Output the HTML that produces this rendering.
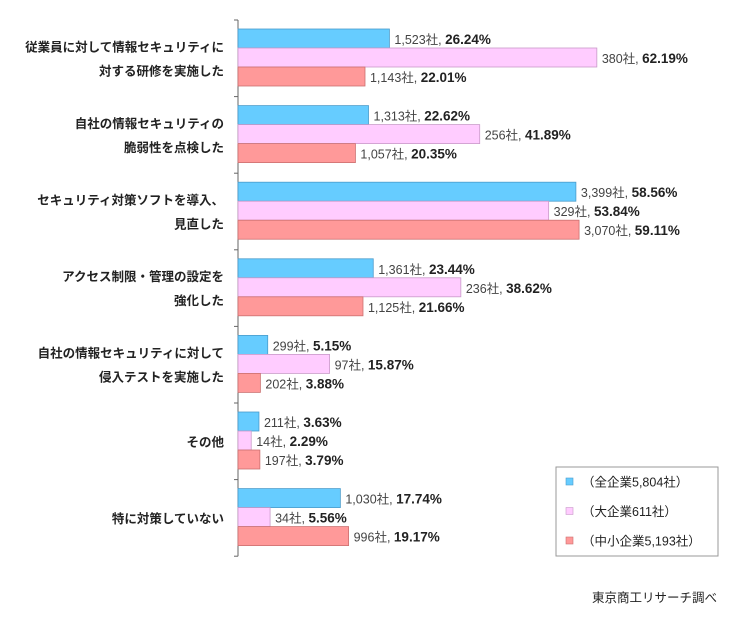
<!DOCTYPE html>
<html><head><meta charset="utf-8"><style>
body{margin:0;background:#fff;width:748px;height:613px;overflow:hidden;font-family:"Liberation Sans","Noto Sans CJK JP",sans-serif;}
svg text{font-family:"Liberation Sans","Noto Sans CJK JP",sans-serif;}
</style></head><body>
<svg id="chart" width="748" height="613"></svg>
<script>
const categories=[["従業員に対して情報セキュリティに","対する研修を実施した"],["自社の情報セキュリティの","脆弱性を点検した"],["セキュリティ対策ソフトを導入、","見直した"],["アクセス制限・管理の設定を","強化した"],["自社の情報セキュリティに対して","侵入テストを実施した"],["その他"],["特に対策していない"]];
const seriesNames=["（全企業5,804社）","（大企業611社）","（中小企業5,193社）"];
const allPct=[26.24,22.62,58.56,23.44,5.15,3.63,17.74];
const allCnt=["1,523","1,313","3,399","1,361","299","211","1,030"];
const largePct=[62.19,41.89,53.84,38.62,15.87,2.29,5.56];
const largeCnt=["380","256","329","236","97","14","34"];
const smallPct=[22.01,20.35,59.11,21.66,3.88,3.79,19.17];
const smallCnt=["1,143","1,057","3,070","1,125","202","197","996"];
const colors=["#66ccff","#ffccff","#ff9999"];
const strokes=["#4a9ccc","#c99ac9","#cc7070"];
const svg=document.getElementById('chart');
const NS="http://www.w3.org/2000/svg";
const x0=238, kx=5.77, top0=20, gH=76.6, barH=19;
const xs=v=>x0+v*kx;
function mk(t,a){const e=document.createElementNS(NS,t);for(const k in a)e.setAttribute(k,a[k]);svg.appendChild(e);return e;}
const axis=mk('line',{x1:x0,y1:top0,x2:x0,y2:top0+gH*7,stroke:'#666'});


for(let i=0;i<=7;i++){const t=mk('line',{x1:x0-4,y1:top0+gH*i,x2:x0,y2:top0+gH*i,stroke:'#666'});

}
const series=[[allPct,allCnt],[largePct,largeCnt],[smallPct,smallCnt]];
categories.forEach((c,i)=>{
 const gy=top0+gH*i;
 const cy=gy+gH/2;
 const lab=mk('text',{x:224,y:0,'text-anchor':'end','font-size':12.5,'font-weight':'bold',fill:'#222'});
 
 
 c.forEach((ln,j)=>{const ts=document.createElementNS(NS,'tspan');ts.setAttribute('x',224);ts.setAttribute('y',cy+5+(j-(c.length-1)/2)*24);ts.textContent=ln;lab.appendChild(ts);});
 series.forEach((s,k)=>{
  const y=gy+9+k*barH;
  const w=xs(s[0][i])-x0;
  const r=mk('rect',{x:x0,y:y,width:w,height:barH,fill:colors[k],stroke:strokes[k],'stroke-width':0.8});
  
  
  const t=mk('text',{x:xs(s[0][i])+5,y:y+15,'font-size':12.5,fill:'#444'});
  
  
  const a=document.createElementNS(NS,'tspan');a.textContent=s[1][i]+'社, ';t.appendChild(a);
  const b=document.createElementNS(NS,'tspan');b.setAttribute('font-weight','bold');b.setAttribute('font-size','13.5');b.setAttribute('fill','#222');b.textContent=s[0][i].toFixed(2)+'%';t.appendChild(b);
 });
});
const lg=mk('rect',{x:556,y:467,width:162,height:89,fill:'#fff',stroke:'#999'});


seriesNames.forEach((n,k)=>{
 const y=482+k*29.5;
 const sw=mk('rect',{x:566,y:y-4,width:7,height:7,fill:colors[k],stroke:strokes[k],'stroke-width':0.6});
 
 
 const t=mk('text',{x:582,y:y+4.5,'font-size':12.5,fill:'#222'});
 t.textContent=n;
 
 
});
const src=mk('text',{x:717,y:602,'text-anchor':'end','font-size':12.5,fill:'#222'});
src.textContent='東京商工リサーチ調べ';


</script>
</body></html>
